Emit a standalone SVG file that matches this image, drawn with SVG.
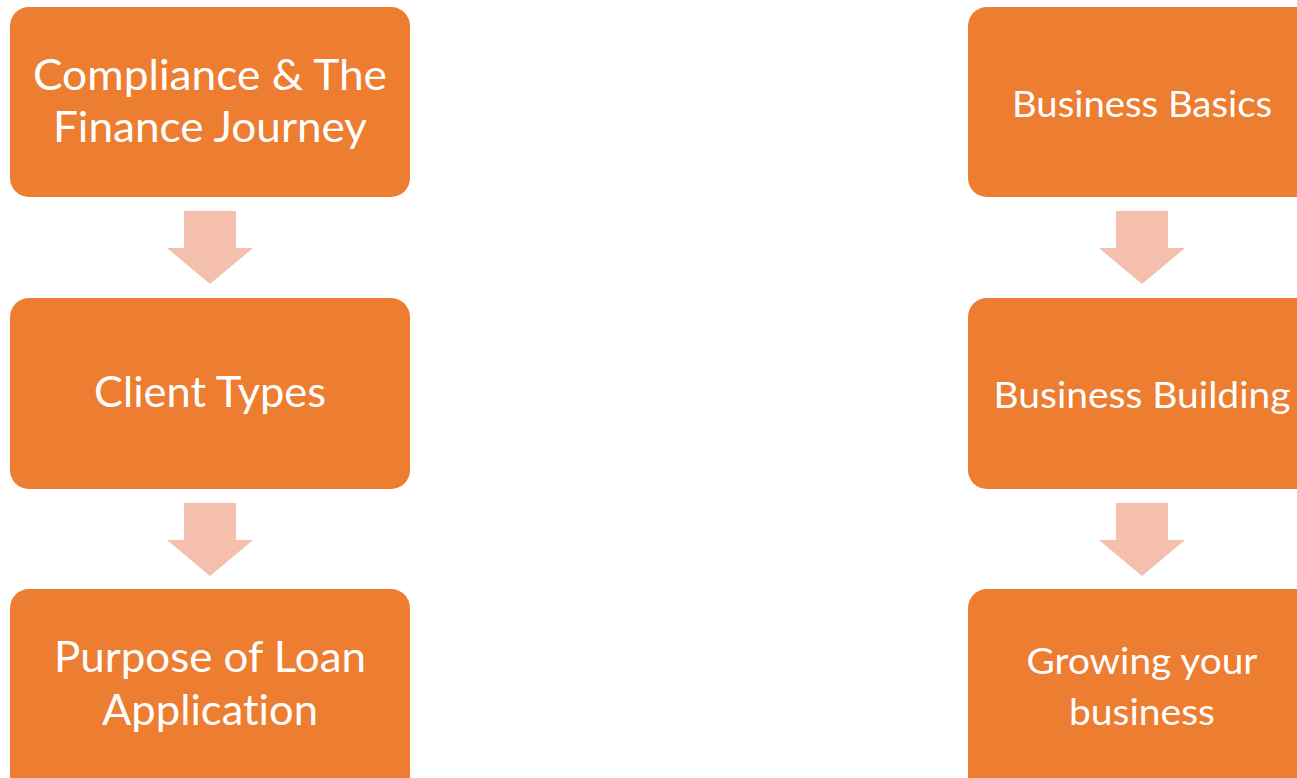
<svg xmlns="http://www.w3.org/2000/svg" width="1297" height="778" viewBox="0 0 1297 778">
<style>
.box{fill:#ED7D31;}
.arr{fill:#F4C0AD;}
.t{font-family:Lato,"Open Sans","Liberation Sans",sans-serif;fill:#FFFFFF;text-anchor:middle;font-variant-ligatures:none;font-feature-settings:"liga" 0;}
.l{font-size:42px;}
.r{font-size:37px;}
</style>
<rect width="1297" height="778" fill="#FFFFFF"/>
<g id="connectors">
<polygon class="arr" points="184,211 236,211 236,248 253,248 210,284 167,248 184,248"/>
<polygon class="arr" points="184,503 236,503 236,540 253,540 210,576 167,540 184,540"/>
<polygon class="arr" points="1116,211 1168,211 1168,248 1185,248 1142,284 1099,248 1116,248"/>
<polygon class="arr" points="1116,503 1168,503 1168,540 1185,540 1142,576 1099,540 1116,540"/>
</g>
<g id="compliance">
<rect class="box" x="10" y="7" width="400" height="190" rx="19"/>
<text class="t l" x="210" y="90" textLength="354" lengthAdjust="spacingAndGlyphs">Compliance &amp; The</text>
<text class="t l" x="210" y="142" textLength="314" lengthAdjust="spacingAndGlyphs">Finance Journey</text>
</g>
<g id="client-types">
<rect class="box" x="10" y="298" width="400" height="191" rx="19"/>
<text class="t l" x="210" y="407" textLength="232" lengthAdjust="spacingAndGlyphs">Client Types</text>
</g>
<g id="purpose">
<rect class="box" x="10" y="589" width="400" height="210" rx="19"/>
<text class="t l" x="210" y="672" textLength="312" lengthAdjust="spacingAndGlyphs">Purpose of Loan</text>
<text class="t l" x="210" y="725" textLength="216" lengthAdjust="spacingAndGlyphs">Application</text>
</g>
<g id="business-basics">
<rect class="box" x="968" y="7" width="348" height="190" rx="19"/>
<text class="t r" x="1142" y="117" textLength="260" lengthAdjust="spacingAndGlyphs">Business Basics</text>
</g>
<g id="business-building">
<rect class="box" x="968" y="298" width="348" height="191" rx="19"/>
<text class="t r" x="1142" y="408" textLength="297" lengthAdjust="spacingAndGlyphs">Business Building</text>
</g>
<g id="growing">
<rect class="box" x="968" y="589" width="348" height="210" rx="19"/>
<text class="t r" x="1142" y="674" textLength="231" lengthAdjust="spacingAndGlyphs">Growing your</text>
<text class="t r" x="1142" y="725" textLength="146" lengthAdjust="spacingAndGlyphs">business</text>
</g>
</svg>
